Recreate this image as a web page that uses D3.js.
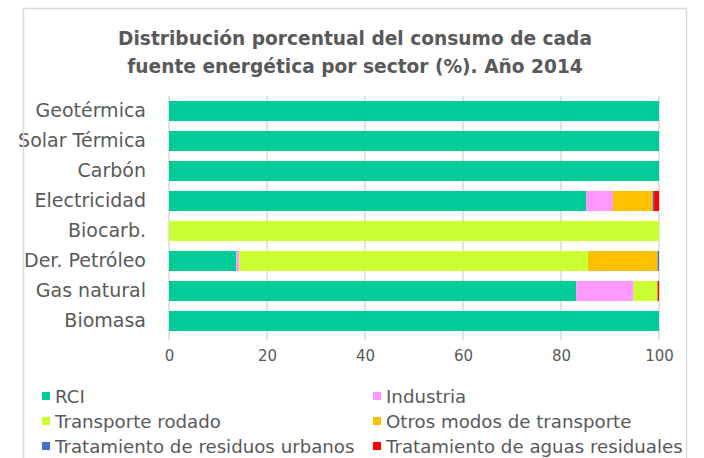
<!DOCTYPE html>
<html><head><meta charset="utf-8">
<script src="https://cdn.jsdelivr.net/npm/d3@7"></script>
<style>body{margin:0;background:#fff}svg{display:block}</style>
</head><body>
<svg id="c" width="704" height="458"></svg>
<script>
const categories = ["Geotérmica","Solar Térmica","Carbón","Electricidad","Biocarb.","Der. Petróleo","Gas natural","Biomasa"];
const seriesNames = ["RCI","Industria","Transporte rodado","Otros modos de transporte","Tratamiento de residuos urbanos","Tratamiento de aguas residuales"];
const rci        = [100,100,100,85.1,0,13.7,83.1,100];
const industria  = [0,0,0,5.5,0,0.6,11.7,0];
const transporte = [0,0,0,0,100,71.2,4.9,0];
const otros      = [0,0,0,8.1,0,14.2,0,0];
const residuos   = [0,0,0,0.3,0,0.3,0,0];
const aguas      = [0,0,0,1.0,0,0,0.3,0];
const xTicks = [0,20,40,60,80,100];
const colors = ["#00CC99","#FF99FF","#CCFF33","#FFC000","#4472C4","#FF0000"];

const seriesVals = [rci,industria,transporte,otros,residuos,aguas];
const rows = categories.map((c,i)=>{const o={cat:c}; seriesNames.forEach((s,j)=>o[s]=seriesVals[j][i]); return o;});
const stack = d3.stack().keys(seriesNames)(rows);

const svg = d3.select("#c");
const font = "'Century Gothic','DejaVu Sans',sans-serif";
const txt = "#595959";

svg.append("text").attr("x",355).attr("y",45).attr("text-anchor","middle")
  .attr("font-family",font).attr("font-weight","bold").attr("font-size",18.6).attr("fill",txt)
  .text("Distribución porcentual del consumo de cada");
svg.append("text").attr("x",355).attr("y",73).attr("text-anchor","middle")
  .attr("font-family",font).attr("font-weight","bold").attr("font-size",18.6).attr("fill",txt)
  .text("fuente energética por sector (%). Año 2014");

const x = d3.scaleLinear().domain([0,100]).range([169,659]);
const y = d3.scaleBand().domain(categories).range([96,336]).paddingInner(0.33).paddingOuter(0.165);

svg.append("g").selectAll("line").data(xTicks).join("line")
  .attr("x1",d=>x(d)).attr("x2",d=>x(d)).attr("y1",96).attr("y2",340)
  .attr("stroke","#d9d9d9").attr("stroke-width",1.5);

svg.append("g").selectAll("g").data(stack).join("g")
  .attr("fill",(d,i)=>colors[i])
  .selectAll("rect").data(d=>d).join("rect")
  .attr("x",d=>x(d[0])).attr("width",d=>x(d[1])-x(d[0]))
  .attr("y",d=>y(d.data.cat)).attr("height",y.bandwidth());

const xa = svg.append("g").attr("transform","translate(0,342)")
  .call(d3.axisBottom(x).tickValues(xTicks).tickSize(0).tickPadding(8));
xa.select(".domain").remove();
xa.selectAll("text").attr("font-family",font).attr("font-size",15).attr("fill",txt);

const ya = svg.append("g").attr("transform","translate(160,0)")
  .call(d3.axisLeft(y).tickSize(0).tickPadding(14));
ya.select(".domain").remove();
ya.selectAll("text").attr("font-family",font).attr("font-size",19).attr("fill",txt);

const legPos = [[42,396],[373,396],[42,421],[373,421],[42,446],[373,446]];
const leg = svg.append("g").selectAll("g").data(seriesNames).join("g")
  .attr("transform",(d,i)=>`translate(${legPos[i][0]},${legPos[i][1]})`);
leg.append("rect").attr("x",0).attr("y",-4).attr("width",8).attr("height",8).attr("fill",(d,i)=>colors[i]);
leg.append("text").attr("x",13).attr("y",0).attr("dy","0.36em")
  .attr("font-family",font).attr("font-size",18.2).attr("fill",txt).text(d=>d);

svg.append("rect").attr("x",23.5).attr("y",8.5).attr("width",663).attr("height",470)
  .attr("fill","none").attr("stroke","#d9d9d9").attr("stroke-width",1.5);
</script>
</body></html>
